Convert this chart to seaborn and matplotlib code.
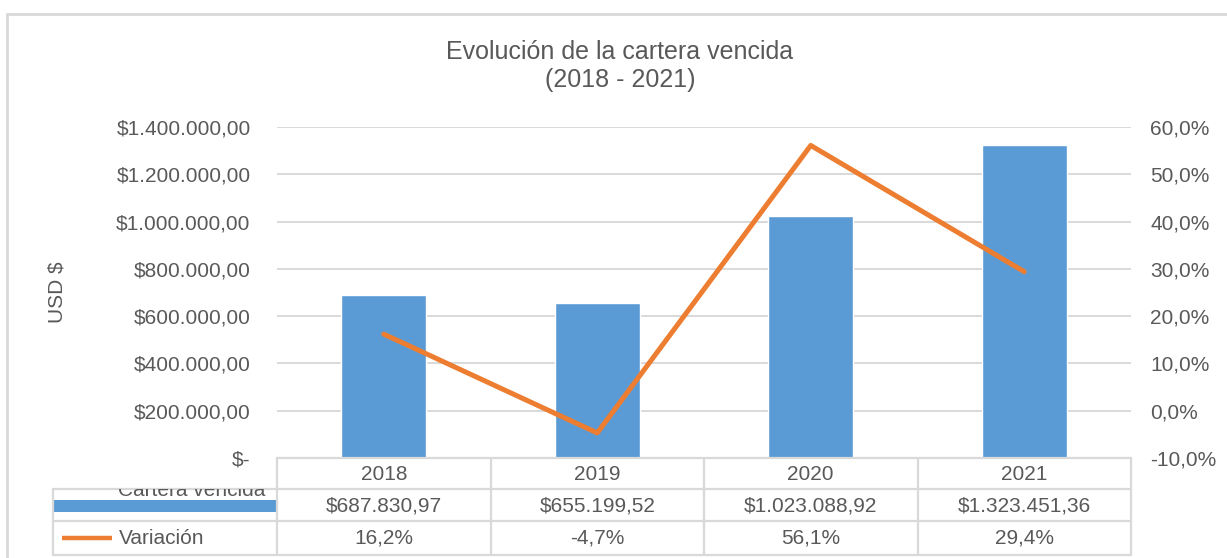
import numpy as np
import pandas as pd
import matplotlib
matplotlib.use("Agg")
import matplotlib.pyplot as plt
import matplotlib.transforms as mtransforms
from matplotlib.patches import Rectangle
from matplotlib.lines import Line2D
import seaborn as sns

# ---- data ----
years = ["2018", "2019", "2020", "2021"]
cartera = [687830.97, 655199.52, 1023088.92, 1323451.36]
variacion = [16.2, -4.7, 56.1, 29.4]
cartera_labels = ["$687.830,97", "$655.199,52", "$1.023.088,92", "$1.323.451,36"]
variacion_labels = ["16,2%", "-4,7%", "56,1%", "29,4%"]
left_ticks = [0, 200000, 400000, 600000, 800000, 1000000, 1200000, 1400000]
right_ticks = [-10, 0, 10, 20, 30, 40, 50, 60]
title1 = "Evolución de la cartera vencida"
title2 = "(2018 - 2021)"
ylabel = "USD $"
series_names = ["Cartera vencida", "Variación"]

BLUE = "#5B9BD5"
ORANGE = "#ED7D31"
TXT = "#595959"
GRID = "#D9D9D9"

sns.set_theme(style="white")
plt.rcParams["font.family"] = ["Liberation Sans", "DejaVu Sans"]

W, H = 1227, 558
fig = plt.figure(figsize=(W / 100, H / 100), dpi=100)

def fx(px):
    return px / W

def fy(py):
    return 1 - py / H

ax_l, ax_r, ax_t, ax_b = 277, 1131, 127, 458
ax = fig.add_axes([fx(ax_l), fy(ax_b), fx(ax_r) - fx(ax_l), fy(ax_t) - fy(ax_b)])

df = pd.DataFrame({"year": years, "cartera": cartera, "variacion": variacion})
sns.barplot(data=df, x="year", y="cartera", color=BLUE, saturation=1, width=0.4, ax=ax)
ax.set_ylim(0, 1400000)
ax.set_yticks(left_ticks)

def money(v):
    if v == 0:
        return "$-"
    s = f"{v:,.2f}".replace(",", "X").replace(".", ",").replace("X", ".")
    return "$" + s

ax.set_yticklabels([money(v) for v in left_ticks])
ax.yaxis.grid(True, color=GRID, lw=1.4)
ax.set_axisbelow(True)
for s in ["top", "left", "right"]:
    ax.spines[s].set_visible(False)
ax.spines["bottom"].set_color(GRID)
ax.spines["bottom"].set_linewidth(1.6)
ax.tick_params(axis="y", length=0, pad=19, labelsize=15, labelcolor=TXT)
ax.tick_params(axis="x", length=0, labelbottom=False)
ax.set_xlabel("")
ax.set_ylabel("")

ax2 = ax.twinx()
sns.lineplot(data=df, x="year", y="variacion", color=ORANGE, lw=3.6, sort=False, ax=ax2)
ax2.set_ylim(-10, 60)
ax2.set_yticks(right_ticks)
ax2.set_yticklabels([f"{v:.1f}%".replace(".", ",") for v in right_ticks])
ax2.tick_params(axis="y", length=0, pad=14, labelsize=15, labelcolor=TXT)
ax2.tick_params(axis="x", length=0, labelbottom=False)
ax2.set_ylabel("")
ax2.set_xlabel("")
for s in ax2.spines.values():
    s.set_visible(False)
ax.set_xlim(-0.5, 3.5)
ax2.set_xlim(-0.5, 3.5)

# ---- data table ----
tr = mtransforms.blended_transform_factory(ax.transData, fig.transFigure)
n = len(years)
row_top, row1, row2, row_bot = 459, 489, 521, 555
tbl_left = 53
lkw = dict(color=GRID, lw=1.6, clip_on=False)
for i in range(n + 1):
    fig.add_artist(Line2D([i - 0.5, i - 0.5], [fy(row_top), fy(row_bot)], transform=tr, **lkw))
for py in (row1, row2, row_bot):
    fig.add_artist(Line2D([fx(tbl_left), fx(ax_l)], [fy(py), fy(py)], transform=fig.transFigure, **lkw))
    fig.add_artist(Line2D([-0.5, n - 0.5], [fy(py), fy(py)], transform=tr, **lkw))
fig.add_artist(Line2D([fx(tbl_left), fx(tbl_left)], [fy(row1), fy(row_bot)], transform=fig.transFigure, **lkw))

for i in range(n):
    fig.text(i, fy(474), years[i], transform=tr, ha="center", va="center", fontsize=15, color=TXT)
    fig.text(i, fy(506), cartera_labels[i], transform=tr, ha="center", va="center", fontsize=15, color=TXT)
    fig.text(i, fy(538), variacion_labels[i], transform=tr, ha="center", va="center", fontsize=15, color=TXT)

# legend keys in table
clip = Rectangle((fx(tbl_left), fy(row_bot)), fx(ax_l) - fx(tbl_left), fy(row1) - fy(row_bot),
                 transform=fig.transFigure, visible=False)
fig.add_artist(clip)
t = fig.text(fx(118), fy(496), series_names[0], ha="left", va="baseline", fontsize=15, color=TXT)
t.set_clip_path(clip)
fig.add_artist(Rectangle((fx(54), fy(512)), fx(ax_l) - fx(54), fy(500) - fy(512),
                         transform=fig.transFigure, color=BLUE, lw=0))
fig.add_artist(Line2D([fx(62), fx(112)], [fy(538), fy(538)], transform=fig.transFigure,
                      color=ORANGE, lw=3.2, solid_capstyle="butt"))
fig.text(fx(119), fy(538), series_names[1], ha="left", va="center", fontsize=15, color=TXT)

# titles and axis label
fig.text(fx(620), fy(52), title1, ha="center", va="center", fontsize=18, color=TXT)
fig.text(fx(620), fy(80), title2, ha="center", va="center", fontsize=18, color=TXT)
fig.text(fx(57), fy(292), ylabel, ha="center", va="center", rotation=90, fontsize=15, color=TXT)

# chart border (partially cropped)
fig.add_artist(Line2D([fx(7), fx(7)], [fy(14), 0], transform=fig.transFigure, color=GRID, lw=2))
fig.add_artist(Line2D([fx(7), 1], [fy(14), fy(14)], transform=fig.transFigure, color=GRID, lw=2))

fig.savefig("out.png", dpi=100, facecolor="white")
